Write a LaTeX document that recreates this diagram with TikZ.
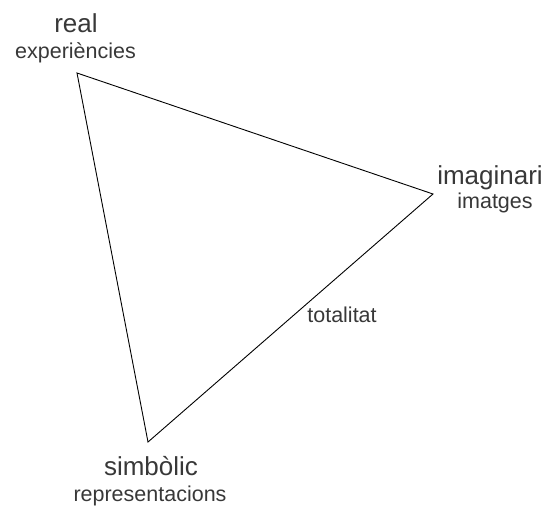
\documentclass[tikz,border=0pt]{standalone}
\usepackage{fontspec}
\setmainfont{Liberation Sans}
\begin{document}
\begin{tikzpicture}[x=1pt,y=-1pt]
    \useasboundingbox (0,0) rectangle (549,507);
    \tikzstyle{titol}=[anchor=base,inner sep=0pt,text=black!78,font=\fontsize{26}{30}\selectfont]
    \tikzstyle{sub}=[anchor=base,inner sep=0pt,text=black!78,font=\fontsize{21.5}{25}\selectfont]
    %%%%%%%%%%%%%%%%%%%%%%%%%%%%%%%%%%%%%% Vertexs
    \coordinate (re) at (77,73);
    \coordinate (im) at (433,194);
    \coordinate (si) at (148,442);

    \draw[line width=0.9pt,line join=miter] (re)--(im)--(si)--cycle;

    %%%%%%%%%%%%%%%%%%%%%%%%%%%%%%%%%%%%%% Etiquetes
    \node[titol] (real) at (76,32){real};
    \node[sub] (exp) at (75.5,58){experiències};

    \node[titol] (imag) at (490,184){imaginari};
    \node[sub] (imat) at (495,208){imatges};

    \node[titol] (simb) at (151,475){simbòlic};
    \node[sub] (repr) at (150,501){representacions};

    \node[sub] (tot) at (342,322){totalitat};
\end{tikzpicture}
\end{document}
